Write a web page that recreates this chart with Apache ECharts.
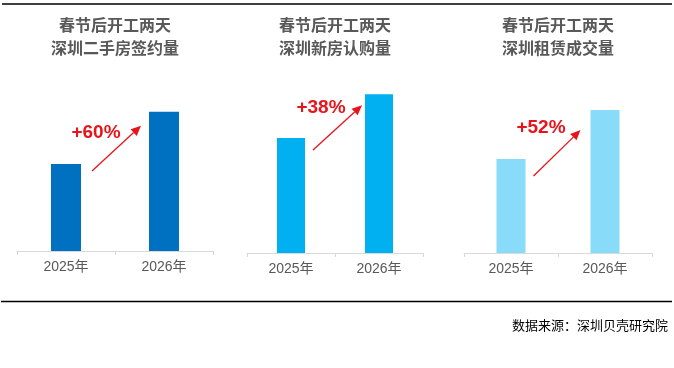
<!DOCTYPE html>
<html><head><meta charset="utf-8">
<script src="https://cdn.jsdelivr.net/npm/echarts@6/dist/echarts.min.js"></script>
<style>html,body{margin:0;padding:0;background:#fff}#c{width:674px;height:368px}</style>
</head><body><div id="c"></div>
<script>
// ---- data ----
const categories = ['2025年', '2026年'];
const panelTitles = ['春节后开工两天\n深圳二手房签约量', '春节后开工两天\n深圳新房认购量', '春节后开工两天\n深圳租赁成交量'];
const resaleSigned = [100, 160];       // index, 2025 = 100
const newHomeSubscribed = [100, 138];
const rentalDeals = [100, 152];
const sourceNote = '数据来源：深圳贝壳研究院';

// ---- layout / style ----
const seriesData = [resaleSigned, newHomeSubscribed, rentalDeals];
const colors = ['#0070C0', '#00B0F0', '#88DCFA'];
const grids = [
  {left: 17, width: 196, top: 77, height: 174},
  {left: 247, width: 176, top: 23, height: 230},
  {left: 464, width: 188, top: 65, height: 188}
];
const barWidths = [30, 28, 29];
// arrow offsets: start relative to bar1 top-right, end relative to bar2 top-left
const arrowOff = [
  {sx: 11, sy: 7, ex: -8, ey: 14, tx: -19, ty: 21},
  {sx: 8, sy: 12, ex: -3, ey: 11, tx: -14, ty: 13},
  {sx: 8, sy: 17, ex: -10, ey: 20, tx: -17, ty: 18}
];
const titleX = [115, 335, 558];
const red = '#E8141B';
const gray = '#595959';

const chart = echarts.init(document.getElementById('c'), null, {renderer: 'canvas'});
const option = {
  animation: false,
  backgroundColor: '#fff',
  grid: grids.map(g => Object.assign({containLabel: false}, g)),
  xAxis: grids.map((g, i) => ({
    type: 'category', gridIndex: i, data: categories,
    axisLine: {show: true, lineStyle: {color: '#D9D9D9', width: 1}},
    axisTick: {show: true, length: 4, lineStyle: {color: '#D9D9D9'}},
    axisLabel: {color: gray, fontSize: 14, margin: 9, fontFamily: 'Liberation Sans, Arial, Noto Sans CJK SC'}
  })),
  yAxis: grids.map((g, i) => ({
    type: 'value', gridIndex: i, min: 0, max: 200, show: false,
    splitLine: {show: false}
  })),
  series: seriesData.map((d, i) => ({
    type: 'bar', xAxisIndex: i, yAxisIndex: i, data: d,
    barWidth: barWidths[i], itemStyle: {color: colors[i]}
  }))
};
chart.setOption(option);

const graphic = [];
// top & bottom rules
graphic.push({type: 'line', shape: {x1: 2, y1: 4, x2: 672, y2: 4}, style: {stroke: '#000', lineWidth: 1.5}});
graphic.push({type: 'line', shape: {x1: 1, y1: 301.5, x2: 672, y2: 301.5}, style: {stroke: '#000', lineWidth: 1.5}});
// footer
graphic.push({type: 'text', x: 668, y: 325, style: {text: sourceNote, textAlign: 'right', textVerticalAlign: 'middle',
  fill: '#000', font: '13px "Noto Sans CJK SC"'}});

seriesData.forEach((d, i) => {
  graphic.push({type: 'text', x: titleX[i], y: 36.5, style: {text: panelTitles[i], textAlign: 'center', textVerticalAlign: 'middle',
    fill: gray, font: 'bold 16px "Noto Sans CJK SC"', lineHeight: 23}});
  const p1 = chart.convertToPixel({xAxisIndex: i, yAxisIndex: i}, [0, d[0]]);
  const p2 = chart.convertToPixel({xAxisIndex: i, yAxisIndex: i}, [1, d[1]]);
  const o = arrowOff[i];
  const bw = barWidths[i] / 2;
  const sx = p1[0] + bw + o.sx, sy = p1[1] + o.sy;
  const ex = p2[0] - bw + o.ex, ey = p2[1] + o.ey;
  const ang = Math.atan2(ey - sy, ex - sx);
  const hl = 10, hw = 4.5;
  const bx = ex - hl * Math.cos(ang), by = ey - hl * Math.sin(ang);
  const nx = -Math.sin(ang), ny = Math.cos(ang);
  graphic.push({type: 'line', shape: {x1: sx, y1: sy, x2: bx, y2: by}, style: {stroke: red, lineWidth: 1.3}});
  graphic.push({type: 'polygon', shape: {points: [[ex, ey], [bx + nx * hw, by + ny * hw], [bx - nx * hw, by - ny * hw]]},
    style: {fill: red}});
  const pct = Math.round((d[1] / d[0] - 1) * 100);
  const midX = (p1[0] + p2[0]) / 2;
  graphic.push({type: 'text', x: midX + o.tx, y: p2[1] + o.ty, style: {text: '+' + pct + '%', textAlign: 'center',
    textVerticalAlign: 'middle', fill: red, font: 'bold 19px "Liberation Sans", Arial'}});
});
chart.setOption({graphic: graphic});
</script>
</body></html>
